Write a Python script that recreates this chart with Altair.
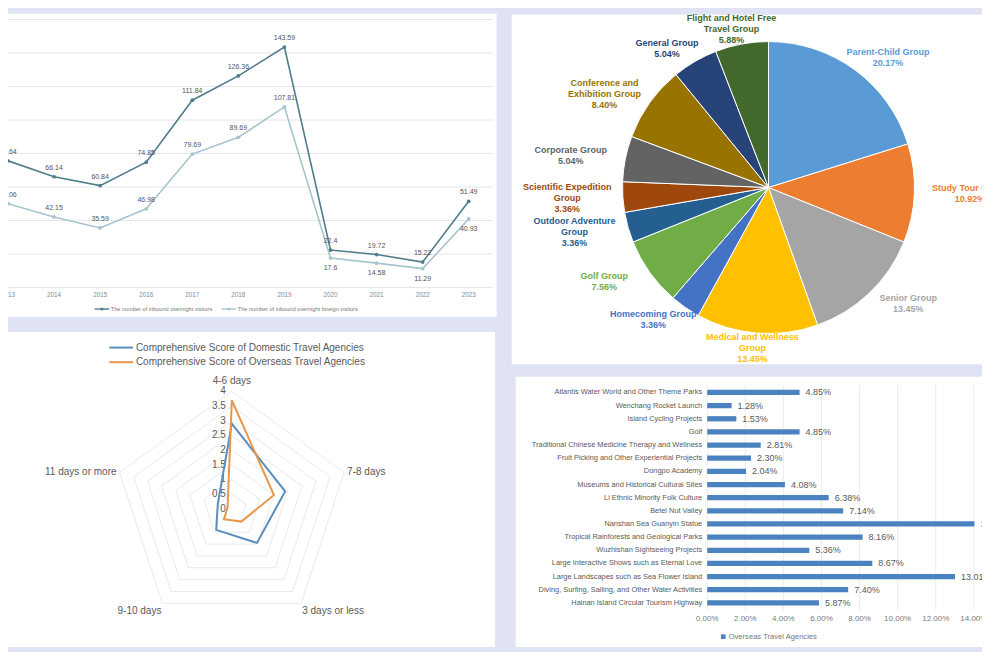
import altair as alt
import pandas as pd

W, H = 974, 644
SX, SY = W / 990, H / 660  # reference page -> canvas coordinates
BG = "#dfe3f4"
TXT = "#595959"
FONT = "Liberation Sans"


def cx(v):
    return v * SX


def cy(v):
    return v * SY


# ---------------- data ----------------
years = [2013, 2014, 2015, 2016, 2017, 2018, 2019, 2020, 2021, 2022, 2023]
visitors = [75.64, 66.14, 60.84, 74.85, 111.84, 126.36, 143.59, 22.4, 19.72, 15.22, 51.49]
foreign_visitors = [50.06, 42.15, 35.59, 46.98, 79.69, 89.69, 107.81, 17.6, 14.58, 11.29, 40.93]
line_series = ["The number of inbound overnight visitors",
               "The number of inbound overnight foreign visitors"]
line_grid = [0, 20, 40, 60, 80, 100, 120, 140, 160]
line_colors = ["#4f7d8c", "#a6c4ce"]

pie_cats = ["Parent-Child Group", "Study Tour Group", "Senior Group",
            "Medical and Wellness Group", "Homecoming Group", "Golf Group",
            "Outdoor Adventure Group", "Scientific Expedition Group", "Corporate Group",
            "Conference and Exhibition Group", "General Group",
            "Flight and Hotel Free Travel Group"]
pie_label_names = ["Parent-Child Group", "Study Tour Group", "Senior Group",
                   "Medical and Wellness\nGroup", "Homecoming Group", "Golf Group",
                   "Outdoor Adventure\nGroup", "Scientific Expedition\nGroup", "Corporate Group",
                   "Conference and\nExhibition Group", "General Group",
                   "Flight and Hotel Free\nTravel Group"]
pie_pct = [20.17, 10.92, 13.45, 13.45, 3.36, 7.56, 3.36, 3.36, 5.04, 8.40, 5.04, 5.88]
pie_colors = ["#5b9bd5", "#ed7d31", "#a5a5a5", "#ffc000", "#4472c4", "#70ad47",
              "#255e91", "#9e480e", "#636363", "#997300", "#264478", "#43682b"]

radar_cats = ["4-6 days", "7-8 days", "3 days or less", "9-10 days", "11 days or more"]
radar_series = ["Comprehensive Score of Domestic Travel Agencies",
                "Comprehensive Score of Overseas Travel Agencies"]
radar_domestic = [2.9, 1.9, 1.45, 0.9, 0.5]
radar_overseas = [3.7, 1.5, 0.55, 0.45, 0.15]
radar_levels = [0, 0.5, 1, 1.5, 2, 2.5, 3, 3.5, 4]
radar_tick_labels = ["0", "0.5", "1", "1.5", "2", "2.5", "3", "3.5", "4"]
radar_colors = ["#5b8dbb", "#e8974e"]
RADAR_MAX = 4

bar_cats = ["Atlantis Water World and Other Theme Parks", "Wenchang Rocket Launch",
            "Island Cycling Projects", "Golf",
            "Traditional Chinese Medicine Therapy and Wellness",
            "Fruit Picking and Other Experiential Projects", "Dongpo Academy",
            "Museums and Historical Cultural Sites", "Li Ethnic Minority Folk Culture",
            "Betel Nut Valley", "Nanshan Sea Guanyin Statue",
            "Tropical Rainforests and Geological Parks", "Wuzhishan Sightseeing Projects",
            "Large Interactive Shows such as Eternal Love",
            "Large Landscapes such as Sea Flower Island",
            "Diving, Surfing, Sailing, and Other Water Activities",
            "Hainan Island Circular Tourism Highway"]
bar_pct = [4.85, 1.28, 1.53, 4.85, 2.81, 2.30, 2.04, 4.08, 6.38, 7.14, 14.03,
           8.16, 5.36, 8.67, 13.01, 7.40, 5.87]
bar_ticks = [0, 2, 4, 6, 8, 10, 12, 14]
bar_series = "Overseas Travel Agencies"
bar_color = "#4a83c0"

one = pd.DataFrame({"k": [0]})
units = []  # every unit chart, layered flat with independent (but explicit) scales


def panel(x0, y0, x1, y1):
    return alt.Chart(one).mark_rect(color="white").encode(
        x=alt.value(max(cx(x0), 0)), x2=alt.value(min(cx(x1), W)),
        y=alt.value(max(cy(y0), 0)), y2=alt.value(min(cy(y1), H)))


units += [panel(-10, 6, 496.7, 316.5), panel(512, 7, 1000, 365),
          panel(-10, 332, 495, 655), panel(516, 378, 1000, 655)]

# ---------------- panel A: line chart ----------------
n = len(years)
df_line = pd.DataFrame({
    "year": years * 2,
    "value": visitors + foreign_visitors,
    "series": [line_series[0]] * n + [line_series[1]] * n,
})
xA = alt.X("year:Q", scale=alt.Scale(domain=[years[0], years[-1]], range=[cx(0), cx(468.3)],
                                     nice=False, zero=False), axis=None)
yA = alt.Y("value:Q", scale=alt.Scale(domain=[0, 160], range=[cy(286.5), cy(11.8)], nice=False),
           axis=None)
colA = alt.Color("series:N", scale=alt.Scale(domain=line_series, range=line_colors), legend=None)

units.append(alt.Chart(pd.DataFrame({"value": line_grid})).mark_rule(
    color="#e6e6e6", strokeWidth=1).encode(y=yA, x=alt.value(0), x2=alt.value(cx(493))))
units.append(alt.Chart(pd.DataFrame({"year": years})).mark_text(
    fontSize=6.3, color="#8a8a8a").encode(x=xA, y=alt.value(cy(294.5)),
                                           text=alt.Text("year:Q", format="d")))
baseA = alt.Chart(df_line).transform_calculate(label="toString(datum.value)")
units.append(baseA.mark_line(strokeWidth=1.6).encode(x=xA, y=yA, color=colA))
units.append(baseA.mark_point(filled=True, size=14, opacity=1).encode(x=xA, y=yA, color=colA))
units.append(baseA.transform_filter(alt.datum.series == line_series[0]).mark_text(
    fontSize=7, color="#555", dy=-9).encode(x=xA, y=yA, text="label:N"))
units.append(baseA.transform_filter(
    (alt.datum.series == line_series[1]) & (alt.datum.year < 2020)).mark_text(
    fontSize=7, color="#555", dy=-9).encode(x=xA, y=yA, text="label:N"))
units.append(baseA.transform_filter(
    (alt.datum.series == line_series[1]) & (alt.datum.year >= 2020)).mark_text(
    fontSize=7, color="#555", dy=10).encode(x=xA, y=yA, text="label:N"))


def legend_line(x0, x1, y, color, label):
    return [
        alt.Chart(one).mark_rule(color=color, strokeWidth=1.4).encode(
            x=alt.value(cx(x0)), x2=alt.value(cx(x1)), y=alt.value(cy(y))),
        alt.Chart(one).mark_point(filled=True, size=10, color=color, opacity=1).encode(
            x=alt.value(cx((x0 + x1) / 2)), y=alt.value(cy(y))),
        alt.Chart(one).mark_text(align="left", baseline="middle", fontSize=5.6,
                                 color="#777").encode(
            x=alt.value(cx(x1 + 1.5)), y=alt.value(cy(y)), text=alt.value(label)),
    ]


units += legend_line(88, 103, 308.5, line_colors[0], line_series[0])
units += legend_line(217, 232, 308.5, line_colors[1], line_series[1])

# ---------------- panel B: pie ----------------
PCX, PCY = cx(773), cy(184)
df_pie = pd.DataFrame({"idx": list(range(len(pie_cats))), "cat": pie_cats,
                       "name": pie_label_names, "pct": pie_pct})
colB = alt.Color("cat:N", scale=alt.Scale(domain=pie_cats, range=pie_colors), legend=None)
units.append(alt.Chart(df_pie).mark_arc(outerRadius=146, stroke="white", strokeWidth=1).encode(
    theta=alt.Theta("pct:Q", stack=True),
    order=alt.Order("idx:Q"),
    color=colB,
    x=alt.value(PCX), y=alt.value(PCY)))
pie_lab = alt.Chart(df_pie).transform_window(
    cum="sum(pct)", frame=[None, 0], sort=[alt.SortField("idx")]
).transform_joinaggregate(total="sum(pct)").transform_calculate(
    mid="(datum.cum - datum.pct / 2) / datum.total * 2 * PI",
    lx="sin(datum.mid)", ly="cos(datum.mid)",
    label="datum.name + '\\n' + format(datum.pct, '.2f') + '%'",
    nlines="length(split(datum.label, '\\n'))",
)
xB = alt.X("lx:Q", scale=alt.Scale(domain=[-1, 1], range=[PCX - 205 * SX, PCX + 205 * SX],
                                   nice=False, zero=False), axis=None)
yB = alt.Y("ly:Q", scale=alt.Scale(domain=[-1, 1], range=[PCY + 165 * SY, PCY - 165 * SY],
                                   nice=False, zero=False), axis=None)
for nl in (2, 3):
    units.append(pie_lab.transform_filter(f"datum.nlines == {nl}").mark_text(
        fontWeight="bold", fontSize=9, lineBreak="\n", lineHeight=11,
        baseline="middle", align="center", dy=-(nl - 1) * 11 / 2).encode(
        x=xB, y=yB, color=colB, text="label:N"))

# ---------------- panel C: radar ----------------
RCX, RCY, RR = cx(227.5), cy(513), 120
rows = []
for s, vals in zip(radar_series, [radar_domestic, radar_overseas]):
    for k, (cat, v) in enumerate(zip(radar_cats, vals)):
        rows.append({"series": s, "k": k, "cat": cat, "value": v})
df_radar = pd.DataFrame(rows)
df_rings = pd.DataFrame([{"value": lv, "k": k} for lv in radar_levels[1:]
                         for k in range(len(radar_cats))])
df_rticks = pd.DataFrame({"value": radar_levels, "label": radar_tick_labels})
df_rcats = pd.DataFrame({"k": list(range(len(radar_cats))), "cat": radar_cats,
                         "value": [RADAR_MAX] * len(radar_cats)})
NK = len(radar_cats)
polar = dict(ang=f"datum.k * 2 * PI / {NK}",
             rx="datum.value * sin(datum.ang)", ry="datum.value * cos(datum.ang)")
xC = alt.X("rx:Q", scale=alt.Scale(domain=[-RADAR_MAX, RADAR_MAX],
                                   range=[RCX - RR * SX, RCX + RR * SX],
                                   nice=False, zero=False), axis=None)
yC = alt.Y("ry:Q", scale=alt.Scale(domain=[-RADAR_MAX, RADAR_MAX],
                                   range=[RCY + RR * SY, RCY - RR * SY],
                                   nice=False, zero=False), axis=None)
units.append(alt.Chart(df_rings).transform_calculate(**polar).mark_line(
    interpolate="linear-closed", color="#e9e9e9", strokeWidth=1).encode(
    x=xC, y=yC, detail="value:N", order="k:Q"))
units.append(alt.Chart(df_rticks).transform_calculate(rx="0", ry="datum.value").mark_text(
    align="right", baseline="middle", dx=-6, fontSize=10, color=TXT).encode(
    x=xC, y=yC, text="label:N"))
units.append(alt.Chart(df_radar).transform_calculate(**polar).mark_line(
    interpolate="linear-closed", strokeWidth=2).encode(
    x=xC, y=yC, order="k:Q",
    color=alt.Color("series:N", scale=alt.Scale(domain=radar_series, range=radar_colors),
                    legend=None)))
rc = alt.Chart(df_rcats).transform_calculate(**polar)


def rc_layer(cond, **kw):
    return rc.transform_filter(cond).mark_text(fontSize=10, color=TXT, baseline="middle",
                                               **kw).encode(x=xC, y=yC, text="cat:N")


units += [
    rc_layer("abs(sin(datum.ang)) < 0.1", align="center", dy=-10),
    rc_layer("sin(datum.ang) >= 0.1 && cos(datum.ang) > 0", align="left", dx=3),
    rc_layer("sin(datum.ang) >= 0.1 && cos(datum.ang) < 0", align="left", dx=1, dy=8),
    rc_layer("sin(datum.ang) <= -0.1 && cos(datum.ang) < 0", align="right", dx=-1, dy=8),
    rc_layer("sin(datum.ang) <= -0.1 && cos(datum.ang) > 0", align="right", dx=-3),
]


def legend_simple(y, color, label):
    return [
        alt.Chart(one).mark_rule(color=color, strokeWidth=2).encode(
            x=alt.value(cx(103)), x2=alt.value(cx(127)), y=alt.value(cy(y))),
        alt.Chart(one).mark_text(align="left", baseline="middle", fontSize=10,
                                 color=TXT).encode(
            x=alt.value(cx(130)), y=alt.value(cy(y)), text=alt.value(label)),
    ]


units += legend_simple(348, radar_colors[0], radar_series[0])
units += legend_simple(363, radar_colors[1], radar_series[1])

# ---------------- panel D: bar chart ----------------
df_bar = pd.DataFrame({"cat": bar_cats, "pct": bar_pct})
xD_scale = alt.Scale(domain=[0, 14], range=[cx(710.7), cx(981.7)], nice=False)
xD = alt.X("pct:Q", scale=xD_scale, axis=None)
yD = alt.Y("cat:N", scale=alt.Scale(domain=bar_cats, range=[cy(387.3), cy(616.4)],
                                    paddingInner=0.6, paddingOuter=0.3), axis=None)
df_bt = pd.DataFrame({"pct": bar_ticks})
units.append(alt.Chart(df_bt).mark_rule(color="#ececec", strokeWidth=1).encode(
    x=xD, y=alt.value(cy(386)), y2=alt.value(cy(617))))
units.append(alt.Chart(df_bt).transform_calculate(
    label="format(datum.pct, '.2f') + '%'").mark_text(
    fontSize=8, color="#7a7a7a").encode(x=xD, y=alt.value(cy(626.5)), text="label:N"))
units.append(alt.Chart(df_bar).mark_bar(color=bar_color).encode(x=xD, y=yD))
units.append(alt.Chart(df_bar).transform_calculate(zero="0").mark_text(
    align="right", baseline="middle", fontSize=7.4, dx=-5).encode(
    x=alt.X("zero:Q", scale=xD_scale, axis=None),
    y=yD, text="cat:N", color=alt.value(TXT)))
units.append(alt.Chart(df_bar).transform_calculate(
    label="format(datum.pct, '.2f') + '%'").mark_text(
    align="left", baseline="middle", fontSize=9, dx=6).encode(
    x=xD, y=yD, text="label:N", color=alt.value(TXT)))
units.append(alt.Chart(one).mark_square(size=22, color=bar_color, opacity=1).encode(
    x=alt.value(cx(727)), y=alt.value(cy(644.3))))
units.append(alt.Chart(one).mark_text(align="left", baseline="middle", fontSize=7.6,
                                      color="#777").encode(
    x=alt.value(cx(732.5)), y=alt.value(cy(644.3)), text=alt.value(bar_series)))

chart = alt.layer(*units).resolve_scale(
    x="independent", y="independent", color="independent"
).properties(
    width=W, height=H, background=BG, padding=0,
    autosize=alt.AutoSizeParams(type="none"),
).configure_view(stroke=None).configure_text(font=FONT)

chart.save("out.html", embed_options={"renderer": "svg", "actions": False})
